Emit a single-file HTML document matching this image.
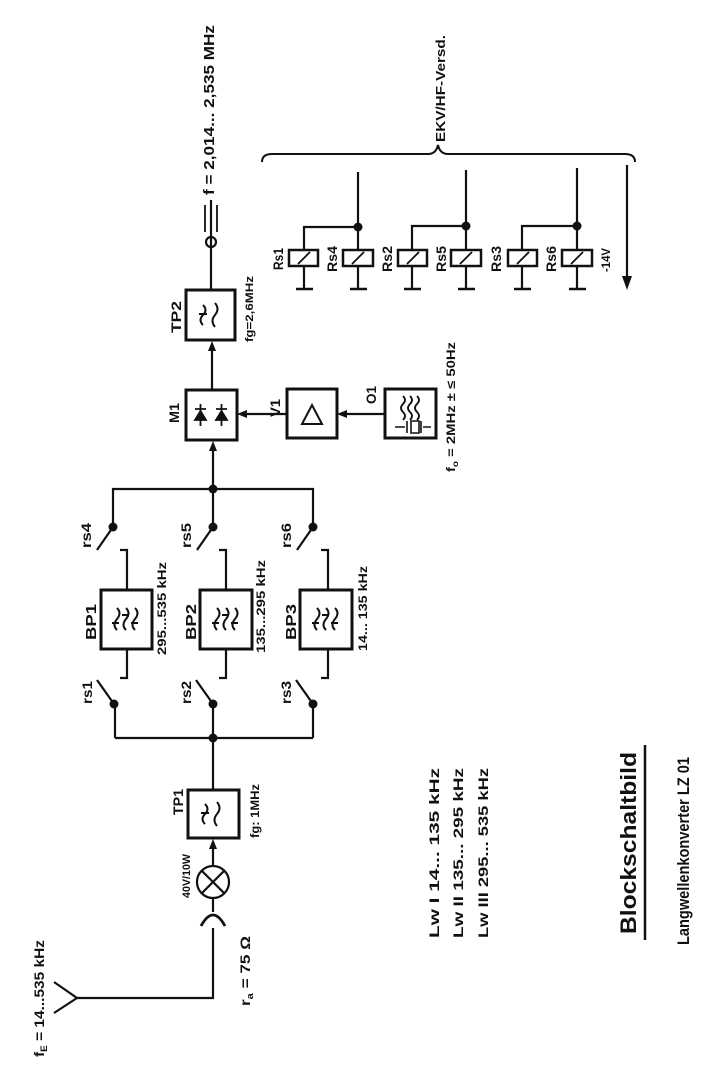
<!DOCTYPE html>
<html><head><meta charset="utf-8"><style>
html,body{margin:0;padding:0;background:#fff;}
svg{display:block;}
text{font-family:"Liberation Sans",sans-serif;font-weight:bold;fill:#111;}
</style></head><body>
<svg width="708" height="1083" viewBox="0 0 708 1083" xmlns="http://www.w3.org/2000/svg">
<defs>
<g id="flt2" fill="none" stroke="#111" stroke-width="2">
<path d="M-8,-10 q5,5 0,10 q-5,5 0,10"/>
<path d="M4,-12 q5,6 0,12 q-5,6 0,12"/>
<path d="M-12,-1 h8"/>
</g>
<g id="flt3" fill="none" stroke="#111" stroke-width="2">
<path d="M-9,-11 q5,5 0,11 q-5,6 0,11"/>
<path d="M0,-11 q5,5 0,11 q-5,6 0,11"/>
<path d="M9,-11 q5,5 0,11 q-5,6 0,11"/>
<path d="M-14,4 h7 M-4,-4 h7 M5,4 h7"/>
</g>
</defs>
<g stroke="#111" stroke-width="2.2" fill="none">
<!-- antenna -->
<path d="M54,982 L77,998 L54,1013"/>
<path d="M77,998 H213 V928"/>
<path d="M201,926 q12,-22 24,0" stroke-width="2.8"/>
<path d="M213,898 V912"/>
<circle cx="213" cy="882" r="16"/>
<path d="M202,871 L224,893 M224,871 L202,893"/>
<path d="M213,866 V842"/>
<rect x="188" y="790" width="51" height="48" stroke-width="3"/>
<path d="M213,790 V738"/>
<!-- lower branch -->
<path d="M115,738 H313"/>
<path d="M115,738 V704 M213,738 V704 M313,738 V704"/>
<path d="M114,704 L97,680 M213,704 L196,680 M313,704 L296,680"/>
<!-- BP leads -->
<path d="M120,678 H127 V649 M120,550 H127 V590"/>
<path d="M219,678 H226 V649 M219,550 H226 V590"/>
<path d="M321,678 H328 V649 M321,550 H328 V590"/>
<rect x="101" y="590" width="51" height="59" stroke-width="3"/>
<rect x="200" y="590" width="52" height="59" stroke-width="3"/>
<rect x="300" y="590" width="52" height="59" stroke-width="3"/>
<!-- upper switches -->
<path d="M113,527 L97,550 M213,527 L197,550 M313,527 L297,550"/>
<path d="M113,527 V489 H313 V527 M213,527 V489"/>
<path d="M213,489 V445"/>
<rect x="186" y="390" width="51" height="50" stroke-width="3"/>
<rect x="287" y="389" width="50" height="49" stroke-width="3"/>
<rect x="385" y="389" width="51" height="49" stroke-width="3"/>
<path d="M287,414 H243 M385,414 H343"/>
<path d="M212,390 V346"/>
<rect x="186" y="290" width="49" height="50" stroke-width="3"/>
<path d="M211,290 V200"/>
<circle cx="211" cy="242" r="5"/>
<path d="M205,232 V205 M217,232 V205" stroke-width="1.8"/>
<!-- V1 triangle -->
<path d="M302,424 L312,405 L322,424 Z" stroke-width="2"/>
<!-- diodes -->
<path d="M195,420 h11 l-5.5,-9 z M195,409 h11 M200.5,404 v22" stroke-width="1.8" fill="#111"/>
<path d="M216,420 h11 l-5.5,-9 z M216,409 h11 M221.5,404 v22" stroke-width="1.8" fill="#111"/>
<!-- O1 crystal -->
<path d="M395,427 h10 M407,421 v12 M411,421 h8 v12 h-8 z M421,421 v12 M423,427 h8" stroke-width="1.6"/>
<!-- relays -->
<path d="M304,250 V227 H358 V172 M358,227 V250"/>
<path d="M412,250 V226 H466 V170 M466,226 V250"/>
<path d="M522,250 V226 H577 V168 M577,226 V250"/>
<g stroke-width="2.5">
<rect x="289" y="250" width="29" height="16"/><rect x="343" y="250" width="30" height="16"/>
<rect x="398" y="250" width="29" height="16"/><rect x="451" y="250" width="30" height="16"/>
<rect x="508" y="250" width="29" height="16"/><rect x="562" y="250" width="30" height="16"/>
</g>
<path d="M298,264 l12,-12 M352,264 l12,-12 M407,264 l12,-12 M460,264 l12,-12 M517,264 l12,-12 M571,264 l12,-12" stroke-width="1.8"/>
<path d="M304,266 V289 M358,266 V289 M412,266 V289 M466,266 V289 M522,266 V289 M577,266 V289"/>
<path d="M296,289 h17 M350,289 h17 M404,289 h17 M458,289 h17 M514,289 h17 M569,289 h17" stroke-width="2.5"/>
<!-- brace -->
<path d="M262,162 q0,-8 10,-8 H428 q8,0 10,-9 q2,9 10,9 H625 q10,0 10,8" stroke-width="2"/>
<path d="M627,165 V278"/>
<!-- underline -->
<path d="M645,745 V940" stroke-width="2.5"/>
</g>
<g fill="#111">
<circle cx="213" cy="738" r="4.5"/><circle cx="213" cy="489" r="4.5"/>
<circle cx="114" cy="704" r="4.5"/><circle cx="213" cy="704" r="4.5"/><circle cx="313" cy="704" r="4.5"/>
<circle cx="113" cy="527" r="4.5"/><circle cx="213" cy="527" r="4.5"/><circle cx="313" cy="527" r="4.5"/>
<circle cx="358" cy="227" r="4.5"/><circle cx="466" cy="226" r="4.5"/><circle cx="577" cy="226" r="4.5"/>
<path d="M213,839 l-4,10 h8 z"/>
<path d="M213,441 l-4,10 h8 z"/>
<path d="M212,341 l-4,10 h8 z"/>
<path d="M237,414 l10,-4 v8 z"/>
<path d="M337,414 l10,-4 v8 z"/>
<path d="M627,290 l-5,-14 h10 z"/>
</g>
<use href="#flt2" x="213" y="814"/>
<use href="#flt2" x="211" y="315"/>
<use href="#flt3" x="126" y="619"/>
<use href="#flt3" x="226" y="619"/>
<use href="#flt3" x="326" y="619"/>
<g fill="none" stroke="#111" stroke-width="1.8">
<path d="M397,400 q4,-4 8,0 q4,4 8,0 q4,-4 8,0 M397,407 q4,-4 8,0 q4,4 8,0 q4,-4 8,0 M397,414 q4,-4 8,0 q4,4 8,0 q4,-4 8,0" transform="rotate(90 410 407) translate(2 0)"/>
</g>
<g font-size="14">
<text transform="translate(44,1057) rotate(-90)" textLength="117" lengthAdjust="spacingAndGlyphs">f<tspan font-size="9" dy="3">E</tspan><tspan dy="-3"> = 14...535 kHz</tspan></text>
<text transform="translate(250,1006) rotate(-90)" textLength="70" lengthAdjust="spacingAndGlyphs">r<tspan font-size="9" dy="3">a</tspan><tspan dy="-3"> = 75 Ω</tspan></text>
<text transform="translate(190,898) rotate(-90)" font-size="11" textLength="44" lengthAdjust="spacingAndGlyphs">40V/10W</text>
<text transform="translate(183,815) rotate(-90)" textLength="26" lengthAdjust="spacingAndGlyphs">TP1</text>
<text transform="translate(259,838) rotate(-90)" font-size="12" textLength="54" lengthAdjust="spacingAndGlyphs">fg: 1MHz</text>
<text transform="translate(92,704) rotate(-90)" textLength="23" lengthAdjust="spacingAndGlyphs">rs1</text>
<text transform="translate(191,704) rotate(-90)" textLength="23" lengthAdjust="spacingAndGlyphs">rs2</text>
<text transform="translate(291,704) rotate(-90)" textLength="23" lengthAdjust="spacingAndGlyphs">rs3</text>
<text transform="translate(91,548) rotate(-90)" textLength="25" lengthAdjust="spacingAndGlyphs">rs4</text>
<text transform="translate(191,548) rotate(-90)" textLength="25" lengthAdjust="spacingAndGlyphs">rs5</text>
<text transform="translate(291,548) rotate(-90)" textLength="25" lengthAdjust="spacingAndGlyphs">rs6</text>
<text transform="translate(96,640) rotate(-90)" font-size="15" textLength="36" lengthAdjust="spacingAndGlyphs">BP1</text>
<text transform="translate(196,640) rotate(-90)" font-size="15" textLength="36" lengthAdjust="spacingAndGlyphs">BP2</text>
<text transform="translate(296,640) rotate(-90)" font-size="15" textLength="36" lengthAdjust="spacingAndGlyphs">BP3</text>
<text transform="translate(166,655) rotate(-90)" font-size="12" textLength="93" lengthAdjust="spacingAndGlyphs">295...535 kHz</text>
<text transform="translate(265,653) rotate(-90)" font-size="12" textLength="93" lengthAdjust="spacingAndGlyphs">135...295 kHz</text>
<text transform="translate(367,651) rotate(-90)" font-size="12" textLength="85" lengthAdjust="spacingAndGlyphs">14... 135 kHz</text>
<text transform="translate(179,423) rotate(-90)" textLength="20" lengthAdjust="spacingAndGlyphs">M1</text>
<text transform="translate(280,417) rotate(-90)" textLength="18" lengthAdjust="spacingAndGlyphs">V1</text>
<text transform="translate(376,404) rotate(-90)" textLength="18" lengthAdjust="spacingAndGlyphs">O1</text>
<text transform="translate(455,472) rotate(-90)" font-size="12" textLength="130" lengthAdjust="spacingAndGlyphs">f<tspan font-size="8" dy="3">o</tspan><tspan dy="-3"> = 2MHz ± ≤ 50Hz</tspan></text>
<text transform="translate(181,333) rotate(-90)" textLength="32" lengthAdjust="spacingAndGlyphs">TP2</text>
<text transform="translate(253,342) rotate(-90)" font-size="11" textLength="66" lengthAdjust="spacingAndGlyphs">fg=2,6MHz</text>
<text transform="translate(214,195) rotate(-90)" font-size="15" textLength="170" lengthAdjust="spacingAndGlyphs">f = 2,014... 2,535 MHz</text>
<text transform="translate(445,142) rotate(-90)" font-size="13" textLength="107" lengthAdjust="spacingAndGlyphs">EKV/HF-Versd.</text>
<text transform="translate(283,270) rotate(-90)" textLength="22" lengthAdjust="spacingAndGlyphs">Rs1</text>
<text transform="translate(337,272) rotate(-90)" textLength="26" lengthAdjust="spacingAndGlyphs">Rs4</text>
<text transform="translate(392,272) rotate(-90)" textLength="26" lengthAdjust="spacingAndGlyphs">Rs2</text>
<text transform="translate(446,272) rotate(-90)" textLength="26" lengthAdjust="spacingAndGlyphs">Rs5</text>
<text transform="translate(501,272) rotate(-90)" textLength="26" lengthAdjust="spacingAndGlyphs">Rs3</text>
<text transform="translate(556,272) rotate(-90)" textLength="26" lengthAdjust="spacingAndGlyphs">Rs6</text>
<text transform="translate(610,272) rotate(-90)" font-size="12" textLength="24" lengthAdjust="spacingAndGlyphs">-14V</text>
<text transform="translate(439,938) rotate(-90)" textLength="170" lengthAdjust="spacingAndGlyphs">Lw  I   14...  135 kHz</text>
<text transform="translate(463,938) rotate(-90)" textLength="170" lengthAdjust="spacingAndGlyphs">Lw  II  135...  295 kHz</text>
<text transform="translate(488,938) rotate(-90)" textLength="170" lengthAdjust="spacingAndGlyphs">Lw  III 295...  535 kHz</text>
<text transform="translate(636,934) rotate(-90)" font-size="22" textLength="182" lengthAdjust="spacingAndGlyphs">Blockschaltbild</text>
<text transform="translate(689,945) rotate(-90)" font-size="17" font-weight="normal" textLength="188" lengthAdjust="spacingAndGlyphs">Langwellenkonverter  LZ 01</text>
</g>
</svg>
</body></html>
